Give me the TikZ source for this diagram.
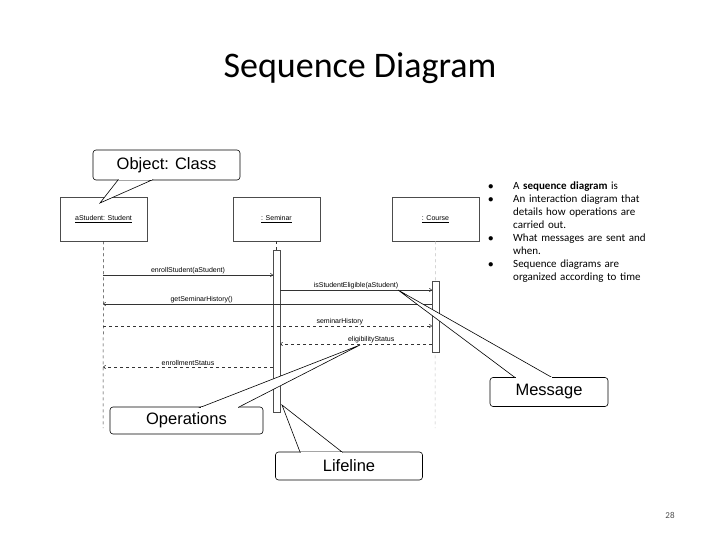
\documentclass[tikz,border=0pt]{standalone}
\usepackage{fontspec}
\setmainfont{Carlito}
\newfontfamily\arialf{Liberation Sans}
\usetikzlibrary{arrows.meta}
\begin{document}
\begin{tikzpicture}[x=1pt,y=-1pt,
  obj/.style={draw=black!70,line width=0.5pt,minimum width=87pt,minimum height=44pt,font=\arialf\fontsize{7}{8}\selectfont,inner sep=0},
  act/.style={draw=black!70,fill=white,line width=0.5pt,minimum width=7pt,inner sep=0},
  msg/.style={draw=black!80,line width=0.5pt,-{To[length=3pt,width=4pt]}},
  ret/.style={msg,dashed},
  lbl/.style={font=\arialf\fontsize{7}{8}\selectfont,above,inner sep=1pt},
  call/.style={draw=black,line width=0.6pt,fill=white,rounded corners=3pt,font=\arialf\fontsize{16.5}{18}\selectfont},
  ptr/.style={draw=black,line width=0.6pt,fill=white}]
\path[use as bounding box] (0,0) rectangle (720,540);
\node[font=\fontsize{36}{40}\selectfont] (title) at (360,68) {Sequence Diagram};
% objects
\node[obj] (stu) at (103.5,219) {\underline{aStudent: Student}};
\node[obj] (sem) at (276.5,219) {\underline{: Seminar}};
\node[obj] (cou) at (435.5,219) {\underline{: Course}};
\coordinate (stuE) at (103,428);
\coordinate (couE) at (435,428);
\draw[dashed,black!80,line width=0.5pt] (stu.south) -- (stuE);
\draw[dashed,black!25,line width=0.5pt] (cou.south) -- (couE);
\draw[dashed,black!80,line width=0.5pt] (sem.south) -- (276.5,250);
\node[act,minimum height=162pt] (asem) at (276.5,331) {};
\node[act,minimum height=71pt] (acou) at (435.5,316.5) {};
% messages
\coordinate (s1) at (103,275); \coordinate (t1) at (273,275);
\draw[msg] (s1) -- node[lbl]{enrollStudent(aStudent)} (t1);
\coordinate (s2) at (280,290); \coordinate (t2) at (432,290);
\draw[msg] (s2) -- node[lbl]{isStudentEligible(aStudent)} (t2);
\coordinate (s3) at (432,304); \coordinate (t3) at (103,304);
\draw[msg] (s3) -- node[lbl,pos=0.7]{getSeminarHistory()} (t3);
\coordinate (s4) at (103,326); \coordinate (t4) at (432,326);
\draw[ret] (s4) -- node[lbl,pos=0.72]{seminarHistory} (t4);
\coordinate (s5) at (432,344); \coordinate (t5) at (280,344);
\draw[ret] (s5) -- node[lbl,pos=0.4]{eligibilityStatus} (t5);
\coordinate (s6) at (273,367); \coordinate (t6) at (103,367);
\draw[ret] (s6) -- node[lbl]{enrollmentStatus} (t6);
% callouts
\coordinate (p1) at (100,203);
\node[call,minimum width=147pt,minimum height=30pt] (c1) at (166.5,165) {Object: Class};
\draw[ptr] (118,180) -- (p1) -- (152,180) -- cycle;
\draw[white,line width=1pt] (118.5,180) -- (151.5,180);
\coordinate (p2) at (360,345);
\node[call,minimum width=153pt,minimum height=27pt] (c2) at (186.5,420.5) {Operations};
\draw[ptr] (200,407.5) -- (p2) -- (238,407.5) -- cycle;
\draw[white,line width=1pt] (200.5,407.5) -- (237.5,407.5);
\coordinate (p3) at (398,290);
\node[call,minimum width=118pt,minimum height=29pt] (c3) at (549,392) {Message};
\draw[ptr] (515,377.5) -- (p3) -- (552,377.5) -- cycle;
\draw[white,line width=1pt] (515.5,377.5) -- (551.5,377.5);
\coordinate (p4) at (282,405);
\node[call,minimum width=147pt,minimum height=28pt] (c4) at (349,466) {Lifeline};
\draw[ptr] (300,452) -- (p4) -- (342,452) -- cycle;
\draw[white,line width=1pt] (300.5,452) -- (341.5,452);
% bullets
\node[anchor=north west,text width=200pt,font=\fontsize{11}{13}\selectfont,inner sep=0] (txt) at (488,182) {%
\makebox[25pt][l]{$\bullet$}A \textbf{sequence diagram} is\\
\makebox[25pt][l]{$\bullet$}An interaction diagram that\\
\hspace*{25pt}details how operations are\\
\hspace*{25pt}carried out.\\
\makebox[25pt][l]{$\bullet$}What messages are sent and\\
\hspace*{25pt}when.\\
\makebox[25pt][l]{$\bullet$}Sequence diagrams are\\
\hspace*{25pt}organized according to time};
\node[font=\fontsize{9}{10}\selectfont,text=black!70] (pg) at (670,515) {28};
\end{tikzpicture}
\end{document}
